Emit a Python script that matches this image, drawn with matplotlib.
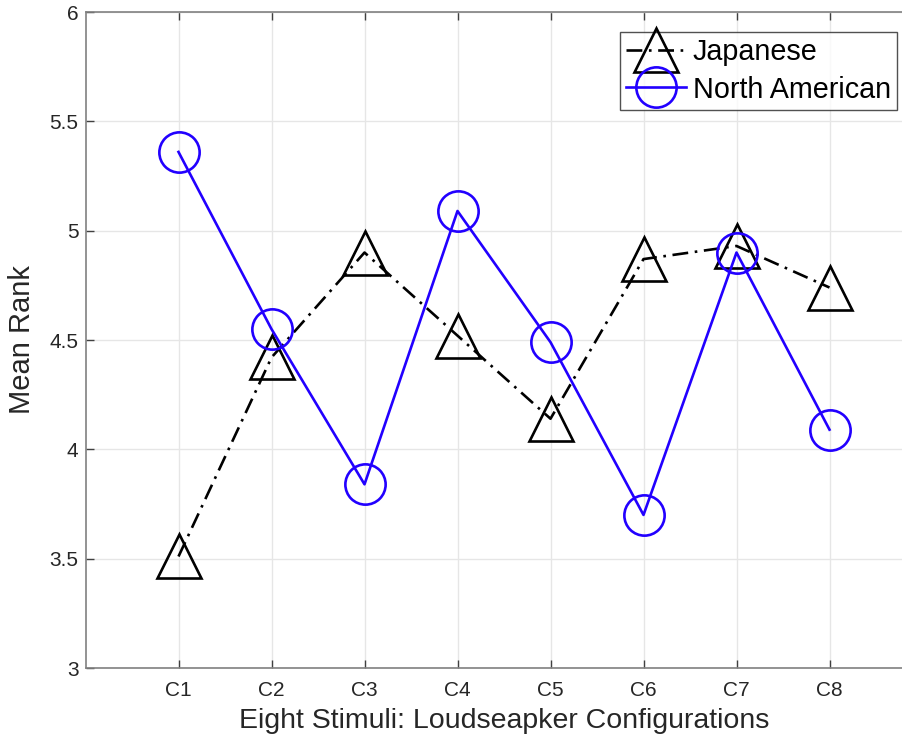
import numpy as np
import matplotlib.pyplot as plt

plt.rcParams['font.family'] = ['Liberation Sans', 'DejaVu Sans']

# Data
configs = ['C1', 'C2', 'C3', 'C4', 'C5', 'C6', 'C7', 'C8']
japanese = [3.51, 4.42, 4.90, 4.52, 4.14, 4.87, 4.93, 4.74]
north_american = [5.36, 4.55, 3.84, 5.09, 4.49, 3.70, 4.90, 4.09]

x = np.arange(1, len(configs) + 1)

fig = plt.figure(figsize=(9.02, 7.38), dpi=100)
ax = fig.add_axes([85.5 / 902, 70 / 738, 837 / 902, 656 / 738])

ax.plot(x, japanese, color='black', linestyle=(0, (6, 2.5, 1, 2.5)), linewidth=1.9,
        marker='^', markersize=32, markerfacecolor='none',
        markeredgecolor='black', markeredgewidth=1.9, label='Japanese')
ax.plot(x, north_american, color='#2200ff', linestyle='-', linewidth=1.9,
        marker='o', markersize=29, markerfacecolor='none',
        markeredgecolor='#2200ff', markeredgewidth=1.9, label='North American')

ax.set_xlim(0, 9)
ax.set_ylim(3, 6)
ax.set_xticks(x)
ax.set_xticklabels(configs)
ax.set_yticks([3, 3.5, 4, 4.5, 5, 5.5, 6])
ax.set_yticklabels(['3', '3.5', '4', '4.5', '5', '5.5', '6'])

ax.grid(True, color='#e6e6e6', linewidth=1.0)
ax.set_axisbelow(True)
for s in ax.spines.values():
    s.set_color('#808080')
    s.set_linewidth(1.2)
ax.tick_params(direction='in', length=6, width=1, colors='#404040',
               labelsize=15, top=True, right=True)
ax.tick_params(axis='x', pad=9)
ax.tick_params(axis='y', pad=5)
for lbl in ax.get_xticklabels() + ax.get_yticklabels():
    lbl.set_color('#262626')

ax.set_xlabel('Eight Stimuli: Loudseapker Configurations', fontsize=20.5,
              color='#262626', labelpad=6)
ax.set_ylabel('Mean Rank', fontsize=21, color='#262626', labelpad=10)

leg = ax.legend(loc='upper right', bbox_to_anchor=(897 / 902, 1 - 32 / 738),
                bbox_transform=fig.transFigure, fontsize=20.7, frameon=True,
                fancybox=False, edgecolor='#262626', handlelength=2.1,
                borderpad=0.22, labelspacing=0.32, handletextpad=0.22,
                borderaxespad=0)
leg.get_frame().set_linewidth(1.0)

fig.savefig('out.png', dpi=100)
